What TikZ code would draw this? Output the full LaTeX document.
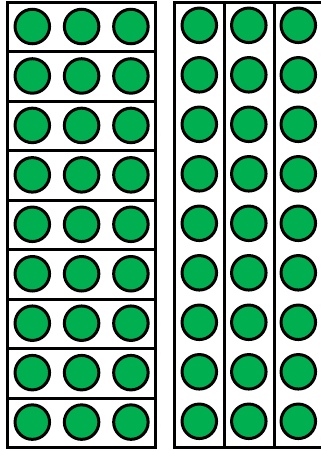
\documentclass[tikz,border=0pt]{standalone}
\usepackage{tikz}
\definecolor{countgreen}{HTML}{00B050}
\tikzset{
  counter/.style={circle,draw=black,line width=3pt,fill=countgreen,minimum size=34.5pt,inner sep=0pt},
  frame/.style={draw=black,line width=3pt}
}

\begin{document}
\begin{tikzpicture}[x=1pt,y=-1pt]
    \useasboundingbox (0,0) rectangle (321,451);
    \clip (0,0) rectangle (321,451);
    % nine rows of three
    \foreach \r in {0,...,8}{
      \draw[frame] (7.5,{2.5+49.45*\r}) rectangle (155.5,{2.5+49.45*(\r+1)});
      \foreach \c in {0,1,2}{
        \node[counter] (row-\r-\c) at ({32.3+49.3*\c},{26.5+49.45*\r}) {};
      }
    }
    % three columns of nine
    \foreach \c in {0,1,2}{
      \draw[frame] ({174.2+50.3*\c},2) rectangle ({174.2+50.3*(\c+1)},447);
      \foreach \r in {0,...,8}{
        \node[counter] (col-\c-\r) at ({199.3+49.5*\c},{25.3+49.5*\r}) {};
      }
    }
  \end{tikzpicture}
\end{document}
